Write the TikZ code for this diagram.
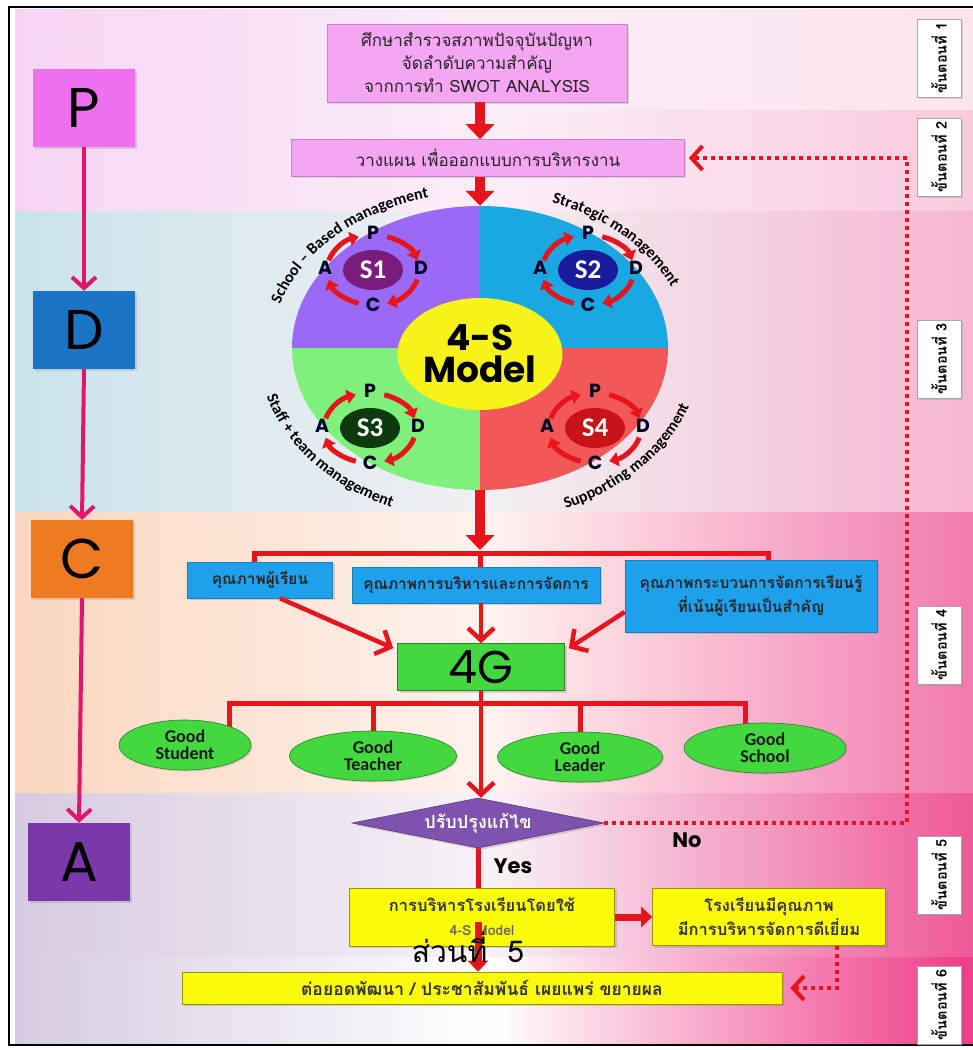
\documentclass[tikz,border=0pt]{standalone}
\usepackage{fontspec}
\setmainfont{Carlito}
\newfontfamily\thai[Script=Thai]{Loma}
\newfontfamily\pop{Poppins}
\usetikzlibrary{arrows.meta,shapes.geometric,decorations.text,shadows,calc}
\pgfdeclarelayer{back}
\pgfdeclarelayer{lines}
\pgfsetlayers{back,lines,main}
\definecolor{redc}{HTML}{E8141B}
\definecolor{pinkarr}{HTML}{E2146C}
\definecolor{boxpink}{HTML}{F4A6F2}
\definecolor{colP}{HTML}{EE70EE}
\definecolor{colD}{HTML}{1C74C6}
\definecolor{colC}{HTML}{EE7A22}
\definecolor{colA}{HTML}{7A38A8}
\definecolor{qpurple}{HTML}{9A6AF6}
\definecolor{qblue}{HTML}{1AA8E2}
\definecolor{qgreen}{HTML}{80F07C}
\definecolor{qred}{HTML}{F25858}
\definecolor{cyellow}{HTML}{F6F21A}
\definecolor{sone}{HTML}{7A1C7C}
\definecolor{stwo}{HTML}{1A1A9C}
\definecolor{sthree}{HTML}{0C3A0E}
\definecolor{sfour}{HTML}{C81418}
\definecolor{qbox}{HTML}{1FA0EA}
\definecolor{ggreen}{HTML}{44D840}
\definecolor{dpurple}{HTML}{7E52AE}
\definecolor{ybox}{HTML}{FAFA0A}
\definecolor{bgPl}{HTML}{F7D4F5}
\definecolor{bgPm}{HTML}{FCEEF8}
\definecolor{bgPa}{HTML}{FCE4EE}
\definecolor{bgPb}{HTML}{F9CADD}
\definecolor{bgDl}{HTML}{C9E3EB}
\definecolor{bgDm}{HTML}{F2F0F3}
\definecolor{bgDr}{HTML}{F6B6D1}
\definecolor{bgCl}{HTML}{FAD6BE}
\definecolor{bgCm}{HTML}{FFF3EF}
\definecolor{bgCr}{HTML}{F27AB0}
\definecolor{bgAl}{HTML}{D6CBE2}
\definecolor{bgAm}{HTML}{F8F2F7}
\definecolor{bgAr}{HTML}{EF5898}
\definecolor{bgBm}{HTML}{FFFFFF}
\definecolor{bgBr}{HTML}{EE3C88}
\newcommand\circlab{\bfseries\fontsize{16}{16}\selectfont}
\newcommand\pdcaring[5]{%
  \node[sell, fill=#4] (#1) at (#2,#3) {#5};
  \foreach \s/\e in {196/252,288/344,16/72,108/164}
    \draw[ringarr] (#1.center) ++(\s:46 and 35) arc[start angle=\s,end angle=\e,x radius=46,y radius=35];
  \node[rlet] (#1p) at (#2,#3-37) {P};
  \node[rlet] (#1d) at (#2+48,#3-2) {D};
  \node[rlet] (#1c) at (#2,#3+35) {C};
  \node[rlet] (#1a) at (#2-48,#3-2) {A};
}
\tikzset{
  lbox/.style={rectangle, minimum width=102pt, minimum height=78pt, inner sep=0pt,
    font=\pop\fontsize{56}{56}\selectfont, text=black, drop shadow={opacity=0.25,shadow xshift=1.5pt,shadow yshift=-1.5pt}},
  pdarr/.style={draw=pinkarr, line width=4pt, -{Straight Barb[width=24pt,length=11pt]}},
  tbox/.style={rectangle, fill=boxpink, draw=boxpink!80!black, line width=0.6pt, align=center, inner sep=0pt,
    font=\thai\fontsize{17}{23}\selectfont, text=black!85, drop shadow={opacity=0.25,shadow xshift=1.5pt,shadow yshift=-1.5pt}},
  blockarr/.style={draw=redc, line width=10pt, -{Triangle[width=28pt,length=15pt]}},
  smallblock/.style={draw=redc, line width=7pt, -{Triangle[width=20pt,length=11pt]}},
  redline/.style={draw=redc, line width=5pt},
  redarr/.style={draw=redc, line width=4.5pt, -{Straight Barb[width=26pt,length=12pt]}},
  dotarr/.style={draw=redc, line width=4pt, dash pattern=on 4pt off 4pt, -{Straight Barb[width=24pt,length=11pt]}},
  sell/.style={ellipse, minimum width=60pt, minimum height=40pt, inner sep=0pt, text=white,
    font=\bfseries\fontsize{27}{27}\selectfont},
  rlet/.style={inner sep=0pt, font=\pop\bfseries\fontsize{19}{19}\selectfont, text=black!85!blue},
  ringarr/.style={draw=redc, line width=5pt, -{Triangle[width=14pt,length=9pt]}},
  qb/.style={rectangle, fill=qbox, draw=qbox!80!black, line width=0.6pt, align=center, inner sep=0pt,
    font=\thai\bfseries\fontsize{15.5}{24}\selectfont, text=black!85,
    drop shadow={opacity=0.3,shadow xshift=2pt,shadow yshift=-2pt}},
  gell/.style={ellipse, fill=ggreen, draw=ggreen!60!black, line width=0.6pt, inner sep=0pt, align=center,
    minimum height=50pt, font=\bfseries\fontsize{18}{17}\selectfont, text=black!90,
    drop shadow={opacity=0.25,shadow xshift=1.5pt,shadow yshift=-1.5pt}},
  yb/.style={rectangle, fill=ybox, draw=ybox!60!black, line width=0.6pt, align=center, inner sep=0pt,
    font=\thai\bfseries\fontsize{16.5}{24}\selectfont, text=black!80,
    drop shadow={opacity=0.3,shadow xshift=2pt,shadow yshift=-2pt}},
  steplab/.style={rectangle, rotate=90, fill=white, draw=black!35, line width=0.6pt, minimum width=78pt,
    minimum height=44pt, inner sep=0pt, font=\thai\bfseries\fontsize{14.5}{14.5}\selectfont,
    drop shadow={opacity=0.25,shadow xshift=1.5pt,shadow yshift=-1.5pt}},
}
\begin{document}
\begin{tikzpicture}[x=1pt,y=-1pt]
\useasboundingbox (0,0) rectangle (973,1050);
\begin{pgfonlayer}{back}
  \fill[white] (0,0) rectangle (973,1050);
  \shade[left color=bgPl, right color=bgPa, middle color=bgPm] (15,9) rectangle (973,110);
  \shade[left color=bgPl, right color=bgPb, middle color=bgPm] (15,110) rectangle (973,211);
  \shade[left color=bgDl, right color=bgDr, middle color=bgDm] (15,211) rectangle (973,512);
  \shade[left color=bgCl, right color=bgCr, middle color=bgCm] (15,512) rectangle (973,793);
  \shade[left color=bgAl, right color=bgAr, middle color=bgAm] (15,793) rectangle (973,957);
  \shade[left color=bgAl, right color=bgBr, middle color=bgBm] (15,957) rectangle (973,1044);
  \draw[line width=2.5pt] (973,7) -- (9,7) -- (9,1045) -- (973,1045);
\end{pgfonlayer}

% PDCA column
\node[lbox, fill=colP] (P) at (84,108) {P};
\node[lbox, fill=colD] (D) at (84,330) {D};
\node[lbox, fill=colC] (C) at (82,559) {C};
\node[lbox, fill=colA] (A) at (79,862) {A};
\draw[pdarr] (P.south) -- (D.north);
\draw[pdarr] (D.south) -- (C.north);
\draw[pdarr] (C.south) -- (A.north);

% step labels
\node[steplab] (st1) at (939,58) {ขั้นตอนที่ 1};
\node[steplab] (st2) at (939,157) {ขั้นตอนที่ 2};
\node[steplab] (st3) at (939,359) {ขั้นตอนที่ 3};
\node[steplab] (st4) at (939,645) {ขั้นตอนที่ 4};
\node[steplab] (st5) at (939,875) {ขั้นตอนที่ 5};
\node[steplab] (st6) at (939,1005) {ขั้นตอนที่ 6};

% top boxes
\node[tbox, minimum width=300pt, minimum height=78pt] (s1) at (477,63)
  {ศึกษาสำรวจสภาพปัจจุบันปัญหา\\จัดลำดับความสำคัญ\\จากการทำ SWOT ANALYSIS};
\node[tbox, minimum width=393pt, minimum height=37pt] (s2) at (488,158)
  {วางแผน เพื่อออกแบบการบริหารงาน};

% 4-S model circle
\begin{scope}
  \clip (480,348) ellipse [x radius=188, y radius=142];
  \fill[qpurple] (280,200) rectangle (480,348);
  \fill[qblue] (480,200) rectangle (680,348);
  \fill[qgreen] (280,348) rectangle (480,500);
  \fill[qred] (480,348) rectangle (680,500);
\end{scope}
\node[ellipse, minimum width=376pt, minimum height=284pt, inner sep=0pt] (model) at (480,348) {};
\node[ellipse, fill=cyellow, minimum width=165pt, minimum height=112pt, inner sep=0pt, align=center,
  font=\pop\bfseries\fontsize{36}{34}\selectfont] (core) at (480,354) {4-S\\[-2pt]Model};
\pdcaring{sa}{373}{270}{sone}{S1}
\pdcaring{sb}{588}{270}{stwo}{S2}
\pdcaring{sc}{370}{428}{sthree}{S3}
\pdcaring{sd}{595}{428}{sfour}{S4}
\path[decorate, decoration={text along path, text align=center, text={|\circlab|School – Based management}}]
  (model.center) ++(188:208 and 155) arc[start angle=188, end angle=262, x radius=208, y radius=155];
\path[decorate, decoration={text along path, text align=center, text={|\circlab|Strategic management}}]
  (model.center) ++(280:208 and 155) arc[start angle=280, end angle=350, x radius=208, y radius=155];
\path[decorate, decoration={text along path, text align=center, text={|\circlab|Staff + team management}}]
  (model.center) ++(177:222 and 174) arc[start angle=177, end angle=103, x radius=222, y radius=174];
\path[decorate, decoration={text along path, text align=center, text={|\circlab|Supporting management}}]
  (model.center) ++(79:222 and 174) arc[start angle=79, end angle=5, x radius=222, y radius=174];

\draw[blockarr] (s1.south -| model.center) -- (s2.north -| model.center);
\draw[blockarr] (s2.south -| model.center) -- (model.north);

% quality boxes
\node[qb, minimum width=145pt, minimum height=36pt] (q1) at (260,580) {คุณภาพผู้เรียน};
\node[qb, minimum width=248pt, minimum height=36pt] (q2) at (476,585) {คุณภาพการบริหารและการจัดการ};
\node[qb, minimum width=252pt, minimum height=72pt] (q3) at (751,596)
  {คุณภาพกระบวนการจัดการเรียนรู้\\ที่เน้นผู้เรียนเป็นสำคัญ};
\coordinate (br1) at (480,553);
\draw[blockarr] (model.south) -- ([yshift=3pt]br1);
\begin{pgfonlayer}{lines}
  \draw[redline] ([xshift=-6pt]q1.north) |- (br1) -| ([xshift=17pt]q3.north);
  \draw[redline] (br1) -- (br1 |- q2.north);
\end{pgfonlayer}

% 4G
\node[rectangle, fill=ggreen, draw=ggreen!60!black, line width=0.6pt, minimum width=167pt, minimum height=47pt,
  inner sep=0pt, font=\pop\fontsize{46}{46}\selectfont, drop shadow={opacity=0.3,shadow xshift=2pt,shadow yshift=-2pt}]
  (g4) at (481,667) {4G};
\draw[redarr] ([xshift=20pt]q1.south) -- ([xshift=-4pt,yshift=-5pt]g4.north west);
\draw[redarr] (q2.south -| g4.north) -- (g4.north);
\draw[redarr] ([yshift=-16pt]q3.west) -- ([xshift=4pt,yshift=-5pt]g4.north east);

% goods
\node[gell, minimum width=132pt] (gs) at (185,745) {Good\\Student};
\node[gell, minimum width=167pt] (gt) at (373,756) {Good\\Teacher};
\node[gell, minimum width=165pt] (gl) at (580,757) {Good\\Leader};
\node[gell, minimum width=162pt] (gsc) at (765,748) {Good\\School};
\coordinate (br2) at (481,703);
\begin{pgfonlayer}{lines}
  \draw[redline] ([xshift=44pt]gs.center) |- (br2) -| ([xshift=-20pt]gsc.center);
  \draw[redline] (gt.center) -- (gt.center |- br2);
  \draw[redline] (gl.center) -- (gl.center |- br2);
\end{pgfonlayer}

% decision
\node[diamond, aspect=5, fill=dpurple, draw=dpurple!70!black, line width=0.6pt, minimum width=252pt,
  minimum height=50pt, inner sep=0pt, text=white, font=\thai\bfseries\fontsize{18}{18}\selectfont,
  drop shadow={opacity=0.3,shadow xshift=2pt,shadow yshift=-2pt}] (dia) at (478,823) {ปรับปรุงแก้ไข};
\draw[redarr] (g4.south) -- (g4.south |- dia.north);
\coordinate (rt) at (907,823);
\draw[dotarr, shorten >=4pt] (dia.east) -- (rt) |- (s2.east);
\node[font=\pop\bfseries\fontsize{21}{21}\selectfont] (no) at (687,840) {No};
\node[font=\pop\bfseries\fontsize{21}{21}\selectfont] (yes) at (513,866) {Yes};

% yellow boxes
\node[yb, minimum width=265pt, minimum height=58pt] (y1) at (482,917)
  {การบริหารโรงเรียนโดยใช้\\{\fontsize{14}{14}\selectfont\color{black!60}4-S Model}};
\node[yb, minimum width=233pt, minimum height=57pt] (y2) at (769,917)
  {โรงเรียนมีคุณภาพ\\มีการบริหารจัดการดีเยี่ยม};
\node[yb, minimum width=600pt, minimum height=32pt, font=\thai\bfseries\fontsize{17.5}{20}\selectfont] (y3) at (482,988)
  {ต่อยอดพัฒนา / ประชาสัมพันธ์ เผยแพร่ ขยายผล};
\begin{pgfonlayer}{lines}
  \draw[redline] (dia.south) -- (dia.south |- y1.north);
\end{pgfonlayer}
\draw[smallblock] (y1.east) -- (y2.west);
\coordinate (ymid) at (478,922);
\draw[smallblock] (ymid) -- (ymid |- y3.north);
\draw[dotarr, shorten >=8pt] ([xshift=68pt]y2.south) |- (y3.east);
\node[font=\thai\fontsize{30}{30}\selectfont] (part) at (468,947) {ส่วนที่\ \ 5};
\end{tikzpicture}
\end{document}
